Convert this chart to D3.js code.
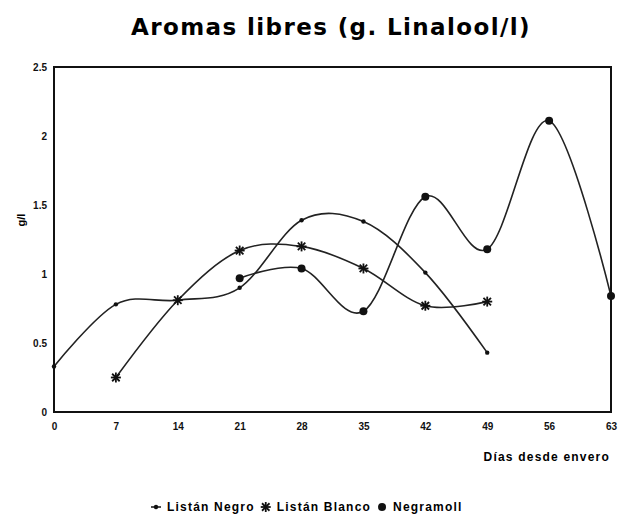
<!DOCTYPE html>
<head>
    <meta charset="utf-8">
    <script src="https://d3js.org/d3.v7.min.js"></script>
    <style>
        body { margin:0; background:#fff; }
        svg text { font-family: "Liberation Sans", Arial, sans-serif; }
    </style>
</head>
<body>
    <svg id="svgelem" width="618" height="514"></svg>
    <script>
        // Data
        var days = [0, 7, 14, 21, 28, 35, 42, 49, 56, 63];
        var xTicks = [0, 7, 14, 21, 28, 35, 42, 49, 56, 63];
        var yTicks = [0, 0.5, 1, 1.5, 2, 2.5];
        var yTickLabels = ["0", "0.5", "1", "1.5", "2", "2.5"];
        var seriesNames = ["Listán Negro", "Listán Blanco", "Negramoll"];

        var listanNegroDays = [0, 7, 14, 21, 28, 35, 42, 49];
        var listanNegro = [0.33, 0.78, 0.81, 0.90, 1.39, 1.38, 1.01, 0.43];
        var listanBlancoDays = [7, 14, 21, 28, 35, 42, 49];
        var listanBlanco = [0.25, 0.81, 1.17, 1.20, 1.04, 0.77, 0.80];
        var negramollDays = [21, 28, 35, 42, 49, 56, 63];
        var negramoll = [0.97, 1.04, 0.73, 1.56, 1.18, 2.11, 0.84];

        var svg = d3.select("#svgelem");
        var mLeft = 54, mRight = 611, mTop = 67, mBottom = 412;

        var x = d3.scaleLinear().domain([0, 63]).range([mLeft, mRight]);
        var y = d3.scaleLinear().domain([0, 2.5]).range([mBottom, mTop]);

        // Title
        svg.append("text")
            .attr("x", 331).attr("y", 35)
            .attr("text-anchor", "middle")
            .style("font-family", "Verdana, 'DejaVu Sans', sans-serif")
            .style("font-weight", "bold")
            .style("font-size", "23px")
            .style("letter-spacing", "1.4px")
            .text("Aromas libres (g. Linalool/l)");

        // Axes
        var xAxis = d3.axisBottom(x).tickValues(xTicks).tickSize(0).tickPadding(11);
        var yAxis = d3.axisLeft(y).tickValues(yTicks).tickSize(0).tickPadding(7)
            .tickFormat(function(d, i) { return yTickLabels[i]; });

        var gx = svg.append("g").attr("transform", "translate(0," + mBottom + ")").call(xAxis);
        var gy = svg.append("g").attr("transform", "translate(" + mLeft + ",0)").call(yAxis);
        [gx, gy].forEach(function(g) {
            g.select(".domain").remove();
            g.selectAll("text")
                .style("font-size", "10px")
                .style("font-weight", "bold")
                .style("font-family", "'Liberation Sans', Arial, sans-serif")
                .attr("fill", "#111");
        });

        // Frame
        svg.append("rect")
            .attr("x", mLeft).attr("y", mTop)
            .attr("width", mRight - mLeft).attr("height", mBottom - mTop)
            .attr("fill", "none").attr("stroke", "#111").attr("stroke-width", 2);

        // Axis labels
        svg.append("text")
            .attr("transform", "translate(25,220) rotate(-90)")
            .attr("text-anchor", "middle")
            .style("font-size", "11px").style("font-weight", "bold")
            .text("g/l");

        svg.append("text")
            .attr("x", 610).attr("y", 461)
            .attr("text-anchor", "end")
            .style("font-size", "12px").style("font-weight", "bold")
            .style("letter-spacing", "1.2px")
            .text("Días desde envero");

        var line = d3.line()
            .x(function(d) { return x(d[0]); })
            .y(function(d) { return y(d[1]); })
            .curve(d3.curveCardinal.tension(0));

        var series = [
            { name: seriesNames[0], pts: d3.zip(listanNegroDays, listanNegro), marker: "dot" },
            { name: seriesNames[1], pts: d3.zip(listanBlancoDays, listanBlanco), marker: "star" },
            { name: seriesNames[2], pts: d3.zip(negramollDays, negramoll), marker: "circle" }
        ];

        function drawMarker(g, type, cx, cy) {
            if (type == "dot") {
                g.append("circle").attr("cx", cx).attr("cy", cy).attr("r", 2.2).attr("fill", "#111");
            } else if (type == "star") {
                var s = 5;
                [[-s, 0, s, 0], [0, -s, 0, s], [-s * 0.75, -s * 0.75, s * 0.75, s * 0.75], [-s * 0.75, s * 0.75, s * 0.75, -s * 0.75]]
                    .forEach(function(l) {
                        g.append("line")
                            .attr("x1", cx + l[0]).attr("y1", cy + l[1])
                            .attr("x2", cx + l[2]).attr("y2", cy + l[3])
                            .attr("stroke", "#111").attr("stroke-width", 1.8);
                    });
            } else {
                g.append("circle").attr("cx", cx).attr("cy", cy).attr("r", 4).attr("fill", "#111");
            }
        }

        series.forEach(function(s) {
            svg.append("path")
                .datum(s.pts)
                .attr("d", line)
                .attr("fill", "none")
                .attr("stroke", "#222")
                .attr("stroke-width", 1.6);
            var g = svg.append("g");
            s.pts.forEach(function(p) { drawMarker(g, s.marker, x(p[0]), y(p[1])); });
        });

        // Legend
        var legend = svg.append("g").attr("transform", "translate(155,507)");
        var lx = 0;
        series.forEach(function(s) {
            var g = legend.append("g").attr("transform", "translate(" + lx + ",0)");
            if (s.marker == "dot") {
                g.append("line").attr("x1", -4).attr("x2", 6).attr("y1", 0).attr("y2", 0)
                    .attr("stroke", "#111").attr("stroke-width", 1.5);
            }
            drawMarker(g, s.marker, 1, 0);
            var t = g.append("text")
                .attr("x", 12).attr("y", 4)
                .style("font-size", "12px").style("font-weight", "bold")
                .style("letter-spacing", "1.2px")
                .text(s.name);
            lx += 12 + t.node().getComputedTextLength() + 10;
        });
    </script>
</body>
